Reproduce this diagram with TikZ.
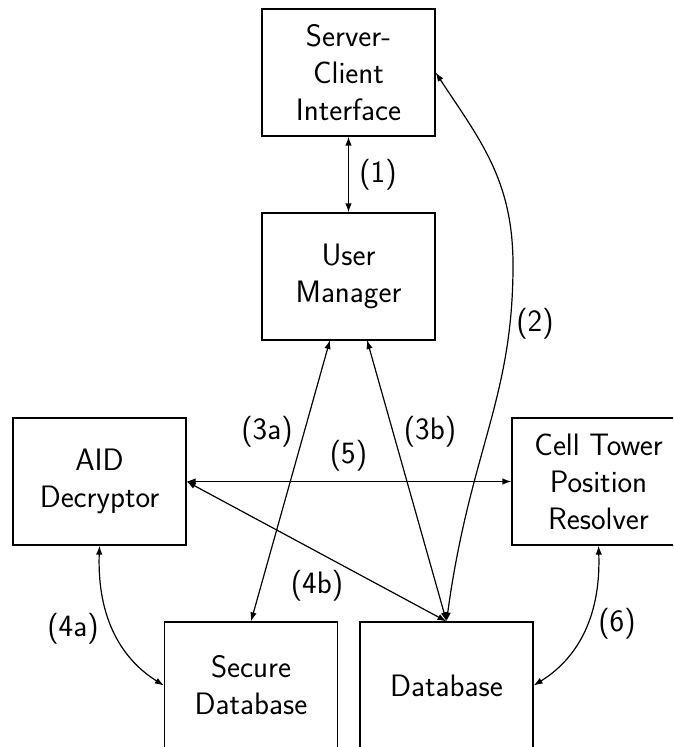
\documentclass[tikz,border=0pt]{standalone}
\usetikzlibrary{arrows.meta}
\begin{document}
\begin{tikzpicture}[x=0.5pt,y=-0.5pt,
  every node/.style={font=\sffamily\fontsize{15.5}{18.5}\selectfont},
  box/.style={draw,line width=0.6pt,rectangle,minimum width=86.5pt,minimum height=63.5pt,inner sep=0pt,align=center},
  lbl/.style={inner sep=0pt},
  conn/.style={line width=0.6pt,{Latex[length=4.5pt,width=3.2pt]}-{Latex[length=4.5pt,width=3.2pt]}}]
\useasboundingbox (0,0) rectangle (673,747);
\clip (0,0) rectangle (673,747);
\node[box] (sc) at (348.5,72.5) {Server-\\Client\\Interface};
\node[box] (um) at (348.5,276.5) {User\\Manager};
\node[box] (aid) at (99.5,481.5) {AID\\Decryptor};
\node[box] (ct) at (598.5,481.5) {Cell Tower\\Position\\Resolver};
\node[box] (sdb) at (251,685.5) {Secure\\Database};
\node[box] (db) at (446.5,685.5) {Database};
\coordinate (uml) at (330,340);
\coordinate (umr) at (367,340);
\coordinate (mid2) at (513,265);
\draw[conn] (db.north) .. controls (470,450) and (513,400) .. (mid2)
  .. controls (513,180) and (480,140) .. (sc.east);
\draw[conn] (sc.south) -- (um.north);
\draw[conn] (uml) -- (sdb.north);
\draw[conn] (umr) -- (db.north);
\draw[conn] (aid.east) -- (ct.west);
\draw[conn] (aid.east) -- (db.north);
\draw[conn] (aid.south) .. controls (97,620) and (123,660) .. (sdb.west);
\draw[conn] (ct.south) .. controls (601,620) and (575,660) .. (db.east);
\node[lbl] (l1) at (378,175) {(1)};
\node[lbl] (l2) at (535,324) {(2)};
\node[lbl] (l3a) at (267,432) {(3a)};
\node[lbl] (l3b) at (430,432) {(3b)};
\node[lbl] (l5) at (348.5,456) {(5)};
\node[lbl] (l4b) at (317,586) {(4b)};
\node[lbl] (l4a) at (73,629) {(4a)};
\node[lbl] (l6) at (617,624) {(6)};
\end{tikzpicture}
\end{document}
